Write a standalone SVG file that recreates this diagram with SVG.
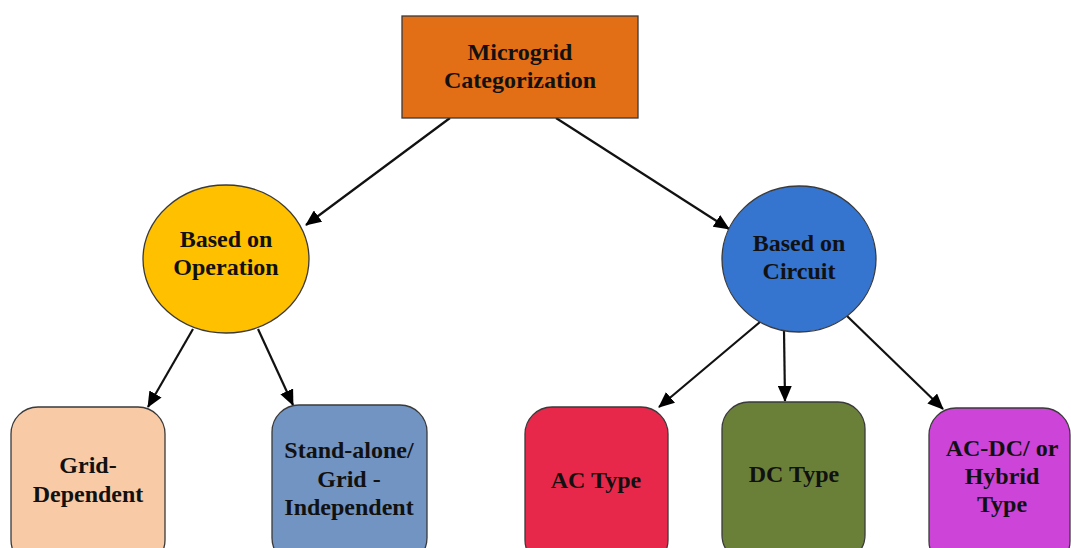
<svg xmlns="http://www.w3.org/2000/svg" width="1071" height="548" viewBox="0 0 1071 548">
<style>
text{font-family:"Liberation Serif","Times New Roman",serif;font-weight:bold;font-size:24px;fill:#111;text-anchor:middle}
.n{stroke:#3a3a3a;stroke-width:1.3}
.c{stroke:#111;stroke-width:2.2;fill:none;marker-end:url(#ah)}
</style>
<defs>
<marker id="ah" markerUnits="userSpaceOnUse" markerWidth="16" markerHeight="14" refX="15" refY="7" orient="auto">
<path d="M0,0 L16,7 L0,14 Z" fill="#000"/>
</marker>
</defs>
<rect width="1071" height="548" fill="#fff"/>
<g id="connectors">
<line class="c" x1="450" y1="118" x2="306" y2="225"/>
<line class="c" x1="556" y1="118" x2="729" y2="229"/>
<line class="c" x1="193" y1="329" x2="148" y2="407"/>
<line class="c" x1="258" y1="329" x2="293" y2="405"/>
<line class="c" x1="760" y1="322" x2="659" y2="407"/>
<line class="c" x1="784" y1="330" x2="785" y2="401"/>
<line class="c" x1="847" y1="316" x2="943" y2="409"/>
</g>
<g id="root">
<rect class="n" x="402" y="16" width="236" height="102" fill="#E26E15"/>
<text x="520" y="60">Microgrid</text>
<text x="520" y="88">Categorization</text>
</g>
<g id="operation">
<ellipse class="n" cx="226" cy="259" rx="83" ry="74" fill="#FFC000"/>
<text x="226" y="247">Based on</text>
<text x="226" y="275">Operation</text>
</g>
<g id="circuit">
<ellipse class="n" cx="799" cy="259" rx="77" ry="73" fill="#3574CF"/>
<text x="799" y="251">Based on</text>
<text x="799" y="279">Circuit</text>
</g>
<g id="grid-dependent">
<rect class="n" x="11" y="407" width="154" height="160" rx="27" fill="#F8CBA6"/>
<text x="88" y="473">Grid-</text>
<text x="88" y="502">Dependent</text>
</g>
<g id="stand-alone">
<rect class="n" x="272" y="405" width="155" height="160" rx="27" fill="#7194C2"/>
<text x="349" y="458">Stand-alone/</text>
<text x="349" y="487">Grid -</text>
<text x="349" y="515">Independent</text>
</g>
<g id="ac-type">
<rect class="n" x="525" y="407" width="143" height="160" rx="27" fill="#E8284B"/>
<text x="596" y="488">AC Type</text>
</g>
<g id="dc-type">
<rect class="n" x="722" y="402" width="143" height="160" rx="27" fill="#6A8039"/>
<text x="794" y="482">DC Type</text>
</g>
<g id="hybrid">
<rect class="n" x="929" y="408" width="141" height="160" rx="27" fill="#CC44D8"/>
<text x="1002" y="456">AC-DC/ or</text>
<text x="1002" y="484">Hybrid</text>
<text x="1002" y="512">Type</text>
</g>
</svg>
